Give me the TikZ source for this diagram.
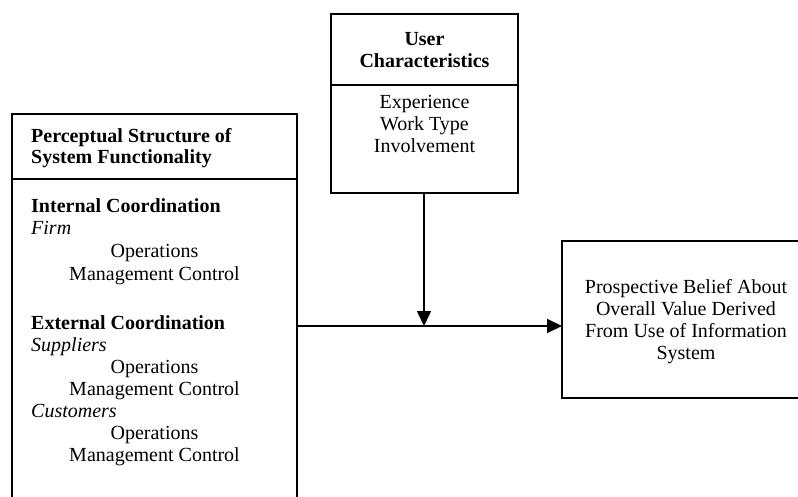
\documentclass[tikz,border=0pt]{standalone}
\usepackage{fontspec}
\setmainfont{Liberation Serif}
\usetikzlibrary{arrows.meta}
\tikzstyle{frame} = [draw, line width=1.6pt, inner sep=0pt, outer sep=0pt, anchor=north west, align=center, text depth=0pt, font=\fontsize{20}{22}\selectfont]
\tikzstyle{entry} = [font=\fontsize{20}{22}\selectfont, inner sep=0pt, anchor=base]
\tikzstyle{flow} = [line width=1.6pt, -{Triangle[length=15pt,width=14pt]}]

\begin{document}
\begin{tikzpicture}[x=1pt, y=-1pt]
    \useasboundingbox (0,0) rectangle (798,497);

    % User characteristics box
    \node[frame, minimum width=187, minimum height=71] (uhead) at (331,14) {\textbf{User}\\\textbf{Characteristics}};
    \node[frame, minimum width=187, minimum height=108] (ubody) at (331,85) {};
    \foreach \y/\t/\n in {109/Experience/exp, 131/Work Type/work, 153/Involvement/inv}
        \node[entry] (\n) at (424.5,\y) {\t};

    % Perceptual structure box (runs off the page at the bottom)
    \node[frame, minimum width=285, minimum height=65] (phead) at (12,114) {};
    \node[frame, minimum width=285, minimum height=340] (pbody) at (12,179) {};
    \foreach \y/\t/\n in {143/Perceptual Structure of/ps1, 164/System Functionality/ps2, 213/Internal Coordination/ic, 329/External Coordination/ec}
        \node[entry, anchor=base west] (\n) at (31,\y) {\textbf{\t}};
    \foreach \y/\t/\n in {235/Firm/firm, 351/Suppliers/supp, 417/Customers/cust}
        \node[entry, anchor=base west] (\n) at (31,\y) {\textit{\t}};
    \foreach \y/\t/\n in {258/Operations/op1, 280/Management Control/mc1, 373/Operations/op2, 395/Management Control/mc2, 439/Operations/op3, 461/Management Control/mc3}
        \node[entry] (\n) at (154.5,\y) {\t};

    % Outcome box (runs off the page at the right)
    \node[frame, minimum width=248, minimum height=157] (value) at (562,241) {Prospective Belief About\\Overall Value Derived\\From Use of Information\\System};

    % Connectors
    \coordinate (meet) at (424,326);
    \draw[flow] (meet |- ubody.south) -- (meet);
    \draw[flow] (pbody.east |- meet) -- (value.west |- meet);
\end{tikzpicture}
\end{document}
